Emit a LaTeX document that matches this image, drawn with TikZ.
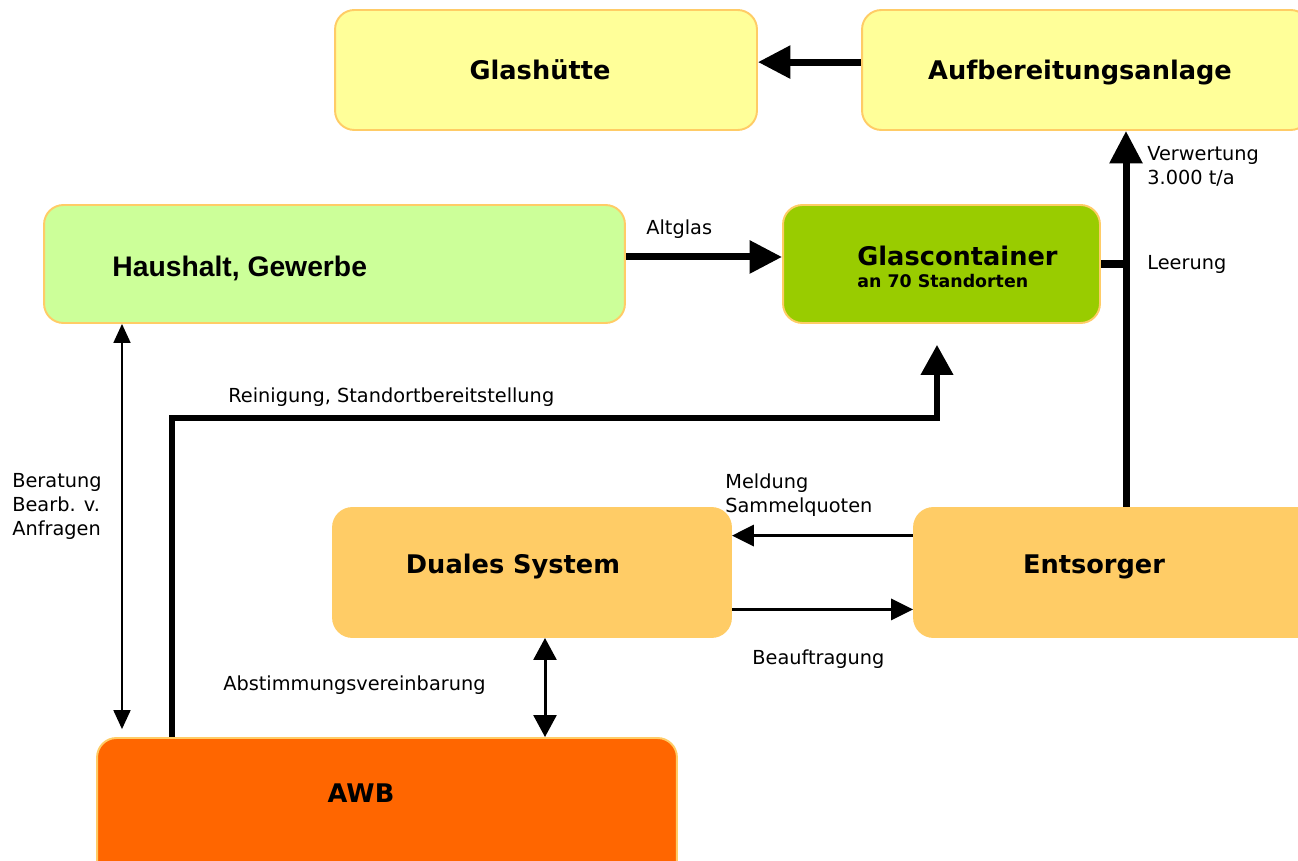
\documentclass[tikz,border=0pt]{standalone}
\usepackage{fontspec}
\setmainfont{DejaVu Sans}
\newfontfamily\arialfont{Liberation Sans}
\usetikzlibrary{arrows.meta}
\pgfdeclarelayer{edgelayer}
\pgfdeclarelayer{nodelayer}
\pgfsetlayers{edgelayer,nodelayer,main}
\definecolor{boxrim}{HTML}{FFCC66}
\definecolor{paleyellow}{HTML}{FFFF99}
\definecolor{palegreen}{HTML}{CCFF99}
\definecolor{limegreen}{HTML}{99CC00}
\definecolor{lightorange}{HTML}{FFCC66}
\definecolor{awborange}{HTML}{FF6600}
\tikzstyle{box}=[rectangle,rounded corners=11pt,draw=boxrim,line width=1.1pt]
\tikzstyle{boxtitle}=[inner sep=0pt,font=\fontsize{14.6}{17}\selectfont\bfseries]
\tikzstyle{flowlabel}=[inner sep=0pt,align=left,font=\fontsize{11}{13.8}\selectfont]
\tikzstyle{flow}=[-{Triangle[length=18.5pt,width=18pt]},line width=4pt,draw=black]
\tikzstyle{flowline}=[line width=4pt,draw=black]
\tikzstyle{supply}=[-{Triangle[length=17pt,width=18pt]},line width=2.9pt,line join=miter,draw=black]
\tikzstyle{message}=[-{Triangle[length=12.5pt,width=12pt]},line width=1.7pt,draw=black]
\tikzstyle{mutual}=[{Triangle[length=12.5pt,width=13pt]}-{Triangle[length=12.5pt,width=13pt]},line width=1.7pt,draw=black]
\tikzstyle{advice}=[{Triangle[length=10.8pt,width=9.6pt]}-{Triangle[length=10.8pt,width=9.6pt]},line width=1.2pt,draw=black]

\begin{document}
\begin{tikzpicture}[x=0.02cm,y=-0.02cm]
	\useasboundingbox (0,0) rectangle (1298,861);
	\begin{pgfonlayer}{nodelayer}
		\node [style=box, fill=paleyellow, minimum width=8.44cm, minimum height=2.4cm] (gh) at (546, 70) {};
		\node [style=box, fill=paleyellow, minimum width=8.96cm, minimum height=2.4cm] (auf) at (1086, 70) {};
		\node [style=box, fill=palegreen, minimum width=11.62cm, minimum height=2.36cm] (hh) at (334.5, 264) {};
		\node [style=box, fill=limegreen, minimum width=6.34cm, minimum height=2.36cm] (gc) at (941.5, 264) {};
		\node [style=box, fill=lightorange, minimum width=7.96cm, minimum height=2.58cm] (ds) at (532, 572.5) {};
		\node [style=box, fill=lightorange, minimum width=8.12cm, minimum height=2.58cm] (ent) at (1117, 572.5) {};
		\node [style=box, fill=awborange, minimum width=11.6cm, minimum height=2.84cm] (awb) at (387, 809) {};
		\node [style=boxtitle, anchor=base] (ghtext) at (540, 80) {Glashütte};
		\node [style=boxtitle, anchor=base] (auftext) at (1080, 80) {Aufbereitungsanlage};
		\node [style=boxtitle, anchor=base west, font=\arialfont\fontsize{16.1}{19}\selectfont\bfseries] (hhtext) at (112, 277) {Haushalt, Gewerbe};
		\node [style=boxtitle, anchor=base west] (gctext) at (857, 266) {Glascontainer};
		\node [style=boxtitle, anchor=base west, font=\fontsize{9.9}{11}\selectfont\bfseries] (gcsub) at (857, 288) {an 70 Standorten};
		\node [style=boxtitle, anchor=base] (dstext) at (513, 573) {Duales System};
		\node [style=boxtitle, anchor=base] (enttext) at (1094, 573) {Entsorger};
		\node [style=boxtitle, anchor=base] (awbtext) at (361, 802) {AWB};
		\node [style=flowlabel, anchor=base west] (altglas) at (646, 235) {Altglas};
		\node [style=flowlabel, anchor=north west] (verwertung) at (1147, 146) {Verwertung\\3.000 t/a};
		\node [style=flowlabel, anchor=base west] (leerung) at (1147, 270) {Leerung};
		\node [style=flowlabel, anchor=base west] (reinigung) at (228, 402) {Reinigung, Standortbereitstellung};
		\node [style=flowlabel, anchor=north west] (beratung) at (12, 473) {Beratung\\Bearb. v.\\Anfragen};
		\node [style=flowlabel, anchor=north west] (meldung) at (725, 473) {Meldung\\Sammelquoten};
		\node [style=flowlabel, anchor=base west] (beauftragung) at (752, 664) {Beauftragung};
		\node [style=flowlabel, anchor=base west] (abstimmung) at (223, 690) {Abstimmungsvereinbarung};
	\end{pgfonlayer}
	\begin{pgfonlayer}{edgelayer}
		\coordinate (leer) at (1126, 264);
		\coordinate (reinL) at (172, 418);
		\coordinate (reinR) at (937, 418);
		\coordinate (reinTip) at (937, 345);
		\coordinate (ber) at (122, 500);
		\coordinate (abst) at (545, 690);
		\draw [style=flow] ([yshift=4.5pt]auf.west) to ([yshift=4.5pt]gh.east);
		\draw [style=flow] ([yshift=4pt]hh.east) to ([yshift=4pt]gc.west);
		\draw [style=flowline] (gc.east) to (leer);
		\draw [style=flow] (ent.north -| leer) to (auf.south -| leer);
		\draw [style=supply] (awb.north -| reinL) -- (reinL) -- (reinR) -- (reinTip);
		\draw [style=advice, shorten >=4.5pt] (hh.south -| ber) to (awb.north -| ber);
		\draw [style=message] ([yshift=21pt]ent.west) to ([yshift=21pt]ds.east);
		\draw [style=message] ([yshift=-21pt]ds.east) to ([yshift=-21pt]ent.west);
		\draw [style=mutual] (ds.south -| abst) to (awb.north -| abst);
	\end{pgfonlayer}
\end{tikzpicture}
\end{document}
